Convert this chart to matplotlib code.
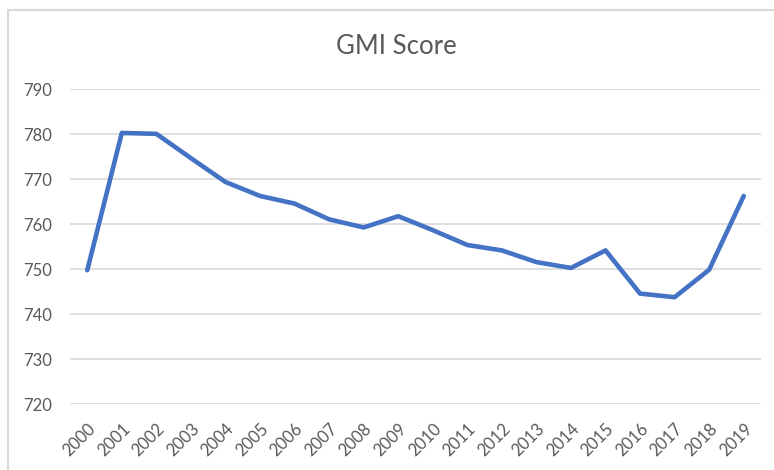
import matplotlib
matplotlib.use("Agg")
import matplotlib.pyplot as plt
from matplotlib.patches import Rectangle

years = [str(y) for y in range(2000, 2020)]
gmi_score = [749.8, 780.3, 780.1, 774.7, 769.4, 766.3, 764.6, 761.1, 759.3, 761.8,
             758.7, 755.4, 754.2, 751.6, 750.3, 754.2, 744.6, 743.8, 749.9, 766.3]
y_ticks = [720, 730, 740, 750, 760, 770, 780, 790]

plt.rcParams['font.family'] = ['Lato', 'DejaVu Sans']

fig = plt.figure(figsize=(7.74, 4.70), dpi=100)
fig.patch.set_facecolor('white')

# outer chart border
fig.patches.append(Rectangle((8/774, -0.1), 1.2, 1 - 10/470 + 0.1, transform=fig.transFigure,
                             fill=False, edgecolor='#d9d9d9', linewidth=1.5))

ax = fig.add_axes([70/774, 1 - 404.3/470, (761 - 70)/774, (404.3 - 89.3)/470])
x = list(range(len(years)))
ax.plot(x, gmi_score, color='#4472C4', linewidth=3.3, solid_capstyle='round', solid_joinstyle='round', zorder=3)

ax.set_xlim(-0.5, len(years) - 0.5)
ax.set_ylim(720, 790)
ax.set_yticks(y_ticks)
ax.set_xticks(x)
ax.set_xticklabels(years, rotation=45, ha='right', va='top', rotation_mode='anchor')
ax.tick_params(axis='both', length=0, colors='#595959', labelsize=12)
ax.tick_params(axis='y', pad=13)
ax.tick_params(axis='x', pad=12)
for s in ax.spines.values():
    s.set_visible(False)
ax.grid(axis='y', color='#d9d9d9', linewidth=1.2)
ax.set_axisbelow(True)

fig.text(396/774, 1 - 46/470, 'GMI Score', ha='center', va='center', fontsize=18.5, color='#595959')

fig.savefig('out.png', dpi=100)
